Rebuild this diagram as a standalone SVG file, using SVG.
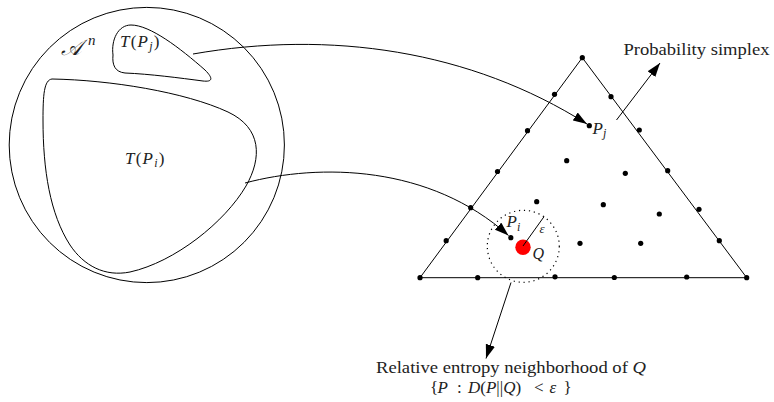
<svg xmlns="http://www.w3.org/2000/svg" width="774" height="402" viewBox="0 0 774 402">
<style>
  .ln { fill: none; stroke: #000; stroke-width: 1; }
  .dot { fill: #000; }
  .tx { font-family: "Liberation Serif", "DejaVu Serif", serif; fill: #222; }
  .it { font-style: italic; }
</style>
<defs>
  <marker id="arr" markerUnits="userSpaceOnUse" markerWidth="15" markerHeight="10" refX="14" refY="4.75" orient="auto">
    <path d="M0,0 L14,4.75 L0,9.5 z" fill="#000"/>
  </marker>
</defs>
<rect width="774" height="402" fill="#fff"/>

<g id="alphabet-set">
  <circle class="ln" cx="146.8" cy="145" r="137.6"/>
  <text class="tx" x="61" y="55" font-size="22" font-style="italic">𝒜</text>
  <text class="tx it" x="88" y="45" font-size="15">n</text>
</g>

<g id="type-class-j">
  <path class="ln" d="M113,55 C111,40 118,25 131,25 C150,25 180,48 205,70 C214,79 212,82 203,81 C180,78 150,74 125,73 C115,72 112,65 113,55 Z"/>
  <text class="tx" x="120" y="46.5" font-size="17" letter-spacing="1.2"><tspan class="it">T</tspan>(<tspan class="it">P</tspan><tspan class="it" font-size="12" dy="3">j</tspan><tspan dy="-3">)</tspan></text>
</g>

<g id="type-class-i">
  <path class="ln" d="M52,79 C110,80 185,92 228,112 C262,128 262,158 246,186 C225,222 175,262 130,272 C105,277 84,266 70,245 C50,214 43,170 43,120 C43,95 44,80 52,79 Z"/>
  <text class="tx" x="125" y="164" font-size="17" letter-spacing="1.2"><tspan class="it">T</tspan>(<tspan class="it">P</tspan><tspan class="it" font-size="12" dy="3">i</tspan><tspan dy="-3">)</tspan></text>
</g>

<g id="simplex">
  <path class="ln" d="M582.3,57.7 L420,277.7 L746.7,277.7 Z"/>
  <g class="dot">
    <circle cx="582.3" cy="57.7" r="2.6"/>
    <circle cx="554.5" cy="94.3" r="2.6"/>
    <circle cx="527.5" cy="130.7" r="2.6"/>
    <circle cx="497.5" cy="171.5" r="2.6"/>
    <circle cx="470.7" cy="207.7" r="2.6"/>
    <circle cx="446.2" cy="240.7" r="2.6"/>
    <circle cx="420" cy="277.7" r="2.6"/>
    <circle cx="611" cy="96.7" r="2.6"/>
    <circle cx="639.3" cy="130" r="2.6"/>
    <circle cx="667.7" cy="170.7" r="2.6"/>
    <circle cx="699" cy="209.3" r="2.6"/>
    <circle cx="719.3" cy="240.7" r="2.6"/>
    <circle cx="746.7" cy="277.7" r="2.6"/>
    <circle cx="477.7" cy="277.7" r="2.6"/>
    <circle cx="555" cy="276.8" r="2.6"/>
    <circle cx="614.3" cy="277.5" r="2.6"/>
    <circle cx="686.7" cy="277" r="2.6"/>
    <circle cx="566.7" cy="160.7" r="2.6"/>
    <circle cx="625.3" cy="173.3" r="2.6"/>
    <circle cx="536.7" cy="201.7" r="2.6"/>
    <circle cx="603.3" cy="204.7" r="2.6"/>
    <circle cx="659.3" cy="214" r="2.6"/>
    <circle cx="580" cy="243.3" r="2.6"/>
    <circle cx="640.7" cy="243.3" r="2.6"/>
  </g>
  <text class="tx" x="623.5" y="55" font-size="17" textLength="146" lengthAdjust="spacingAndGlyphs">Probability simplex</text>
</g>

<g id="point-pj">
  <circle class="dot" cx="589.3" cy="125.7" r="2.6"/>
  <text class="tx it" x="592.5" y="133.5" font-size="17">P<tspan font-size="12" dy="3.5">j</tspan></text>
</g>

<g id="point-pi">
  <circle class="dot" cx="510.8" cy="237.7" r="2.6"/>
  <text class="tx it" x="506.5" y="227" font-size="17">P<tspan font-size="12" dy="3.5">i</tspan></text>
</g>

<g id="point-q">
  <circle cx="523" cy="247.3" r="7.7" fill="#ff0000"/>
  <line class="ln" x1="523" y1="246" x2="544" y2="216.7"/>
  <text class="tx it" x="539.5" y="233.3" font-size="13">ε</text>
  <text class="tx it" x="532.5" y="258.5" font-size="16">Q</text>
</g>

<g id="neighborhood">
  <circle cx="523.3" cy="246.3" r="36" fill="none" stroke="#000" stroke-width="1.2" stroke-dasharray="1.2 3.8"/>
  <text class="tx" x="376" y="372.5" font-size="17" textLength="270" lengthAdjust="spacingAndGlyphs">Relative entropy neighborhood of <tspan class="it">Q</tspan></text>
  <text class="tx" y="393" font-size="17"><tspan x="430">{</tspan><tspan class="it" x="437.5">P</tspan><tspan x="457">:</tspan><tspan x="468" class="it">D</tspan><tspan>(</tspan><tspan class="it">P</tspan><tspan>||</tspan><tspan class="it">Q</tspan><tspan>)</tspan><tspan x="534">&lt;</tspan><tspan class="it" x="549.5">ε</tspan><tspan x="563.5">}</tspan></text>
</g>

<g id="connectors">
  <path class="ln" d="M193,54 C330,30 470,50 587,124" marker-end="url(#arr)"/>
  <path class="ln" d="M245,183 C320,163 430,165 508.5,235.5" marker-end="url(#arr)"/>
  <path class="ln" d="M616.5,120 L660,63" marker-end="url(#arr)"/>
  <path class="ln" d="M511,282.5 L486,358.5" marker-end="url(#arr)"/>
</g>
</svg>
